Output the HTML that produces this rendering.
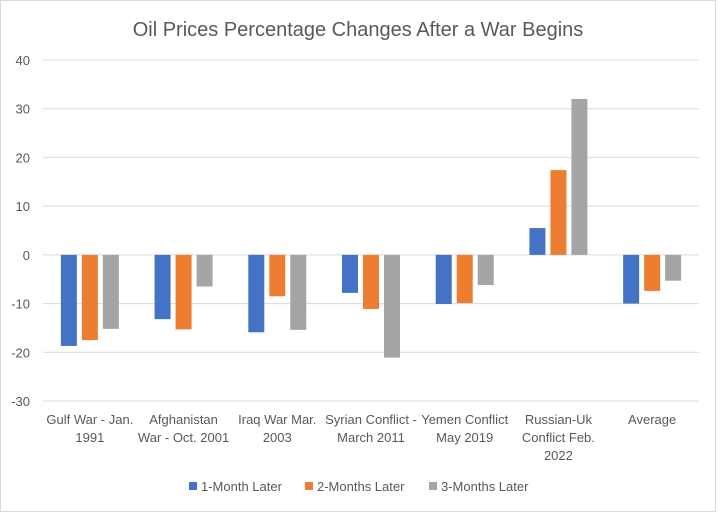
<!DOCTYPE html>
<html><head><meta charset="utf-8"><style>
body{margin:0;background:#fff;font-family:"Liberation Sans",sans-serif;}
svg text{font-family:"Liberation Sans",sans-serif;fill:#595959;}
</style></head><body>
<svg id="chart" width="720" height="513">
<rect x="0.5" y="0.5" width="715" height="511" fill="#fff" stroke="#d9d9d9"/>
<text x="358" y="36" text-anchor="middle" font-size="20">Oil Prices Percentage Changes After a War Begins</text>
<g id="grid"></g><g id="bars"></g><g id="xlabels"></g><g id="legend"></g>
</svg>
<script>
const categories=[["Gulf War - Jan.","1991"],["Afghanistan","War - Oct. 2001"],["Iraq War Mar.","2003"],["Syrian Conflict -","March 2011"],["Yemen Conflict","May 2019"],["Russian-Uk","Conflict Feb.","2022"],["Average"]];
const seriesNames=["1-Month Later","2-Months Later","3-Months Later"];
const month1=[-18.7,-13.2,-15.9,-7.8,-10.1,5.5,-10];
const month2=[-17.5,-15.3,-8.5,-11.1,-9.9,17.4,-7.4];
const month3=[-15.2,-6.5,-15.4,-21.1,-6.2,32.0,-5.3];
const yTicks=[40,30,20,10,0,-10,-20,-30];
const colors=["#4472c4","#ed7d31","#a5a5a5"];
const NS="http://www.w3.org/2000/svg";
const x0=43,x1=699,yTop=60,yBot=401,yMax=40,yMin=-30;
const y=v=>yTop+(yMax-v)/(yMax-yMin)*(yBot-yTop);
const gw=(x1-x0)/categories.length;
function mk(tag,attrs,parent){const e=document.createElementNS(NS,tag);for(const k in attrs)e.setAttribute(k,attrs[k]);parent.appendChild(e);return e;}
const grid=document.getElementById('grid');
yTicks.forEach(t=>{
 const l=mk('line',{x1:x0,x2:x1,y1:y(t),y2:y(t),stroke:'#d9d9d9','stroke-width':1},grid);
 
 
 const tx=mk('text',{x:30,y:y(t)+5,'text-anchor':'end','font-size':13},grid);
 tx.textContent=t;
 
 
});
const bars=document.getElementById('bars');
[month1,month2,month3].forEach((s,si)=>{
 s.forEach((v,i)=>{
  const cx=x0+gw*(i+0.5)+(si-1)*21;
  const r=mk('rect',{x:cx-8,y:Math.min(y(v),y(0)),width:16,height:Math.abs(y(v)-y(0)),fill:colors[si]},bars);
  
  
 });
});
const xl=document.getElementById('xlabels');
categories.forEach((c,i)=>{
 c.forEach((line,j)=>{
  const t=mk('text',{x:x0+gw*(i+0.5),y:424+j*18,'text-anchor':'middle','font-size':13},xl);
  t.textContent=line;
  
  
 });
});
const lg=document.getElementById('legend');
const lx=[189,305,429];
seriesNames.forEach((n,i)=>{
 const r=mk('rect',{x:lx[i],y:482,width:8,height:8,fill:colors[i]},lg);
 
 
 const t=mk('text',{x:lx[i]+12,y:491,'font-size':13},lg);
 t.textContent=n;
 
 
});
</script>
</body></html>
